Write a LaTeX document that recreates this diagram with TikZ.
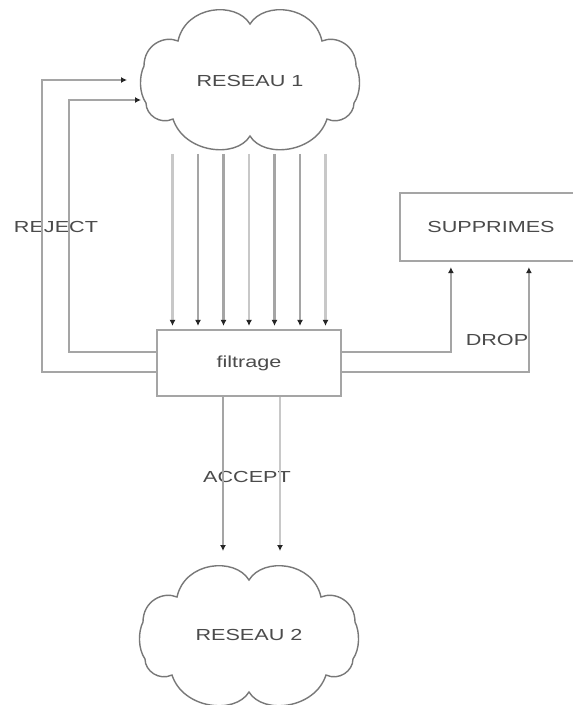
\documentclass[tikz,border=0pt]{standalone}
\usepackage{fontspec}
\setmainfont[FakeStretch=1.35]{Liberation Sans}
\usetikzlibrary{calc, arrows.meta, positioning}
\definecolor{wireclr}{RGB}{165,165,165}
\definecolor{wirelight}{RGB}{200,200,200}
\definecolor{edgeclr}{RGB}{120,120,120}
\definecolor{txtclr}{RGB}{75,75,75}
% cloud outline around the origin (y points down)
\newcommand{\cloudoutline}{(0,-57)
  .. controls (-14,-80) and (-64,-76) .. (-72,-40)
  .. controls (-86,-46) and (-106,-36) .. (-106,-15)
  .. controls (-111,-5) and (-111,12) .. (-104,22)
  .. controls (-104,34) and (-90,44) .. (-77,38)
  .. controls (-66,72) and (-14,78) .. (0,55)
  .. controls (14,78) and (66,72) .. (77,38)
  .. controls (90,44) and (104,34) .. (104,22)
  .. controls (111,12) and (111,-5) .. (106,-15)
  .. controls (106,-36) and (86,-46) .. (72,-40)
  .. controls (64,-76) and (14,-80) .. cycle}

\begin{document}
\begin{tikzpicture}[
        x=1pt, y=-1pt,
        txt/.style = {font=\fontsize{16}{18}\selectfont, text=txtclr, inner sep=0pt},
        box/.style = {draw=wireclr, rectangle, line width=2.2pt, txt},
        wire/.style = {draw=wireclr, line width=2.6pt},
        arrow/.style = {wire, -{Latex[length=6pt, width=6pt, color=black!85]}, shorten >=2pt},
        cloudline/.style = {draw=edgeclr, line width=1.4pt}
    ]
        \clip (0,0) rectangle (573,705);
        \fill[white] (0,0) rectangle (573,705);

        % Networks
        \node (net1) [txt] at (250,81) {RESEAU 1};
        \node (net2) [txt] at (249,635) {RESEAU 2};
        \draw [cloudline, shift={(net1.center)}] \cloudoutline;
        \draw [cloudline, shift={([yshift=-2pt]net2.center)}] \cloudoutline;

        % Filter and dropped packets
        \node (filt) [box, minimum width=184pt, minimum height=66pt] at (249,363) {filtrage};
        \node (supp) [box, minimum width=182pt, minimum height=68pt] at (491,227) {SUPPRIMES};

        % Labels
        \node (reject) [txt] at (56,227) {REJECT};
        \node (drop) [txt] at (497,340) {DROP};
        \node (accept) [txt] at (247,477) {ACCEPT};

        % Arrows RESEAU 1 -> filtrage
        \foreach \k/\c in {-3/wirelight, -2/wireclr, -1/wireclr, 0/wirelight, 1/wireclr, 2/wireclr, 3/wirelight} {
            \coordinate (src\k) at ($(filt.north)+(\k*25.5,-175)$);
            \draw [arrow, draw=\c, shorten >=3pt] (src\k) -- (src\k |- filt.north);
        }

        % Reject loops back to RESEAU 1
        \coordinate (rejtip) at ($(net1.center)+(-121,-1)$);
        \coordinate (rejin) at ($(net1.center)+(-107,19)$);
        \draw [arrow] ([yshift=-9pt]filt.west) -- ++(-114,0) |- (rejtip);
        \draw [arrow] ([yshift=11pt]filt.west) -- ++(-87,0) |- (rejin);

        % Drop to SUPPRIMES
        \draw [arrow, shorten >=5pt] ([yshift=11pt]filt.east) -| ([xshift=52pt]supp.south west);
        \draw [arrow, shorten >=5pt] ([yshift=-9pt]filt.east) -| ([xshift=130pt]supp.south west);

        % Accept to RESEAU 2
        \coordinate (acctop) at ($(net2.center)+(0,-82)$);
        \draw [arrow] ([xshift=-26pt]filt.south) -- ([xshift=-26pt]filt.south |- acctop);
        \draw [arrow, draw=wirelight] ([xshift=31pt]filt.south) -- ([xshift=31pt]filt.south |- acctop);

    \end{tikzpicture}
\end{document}
